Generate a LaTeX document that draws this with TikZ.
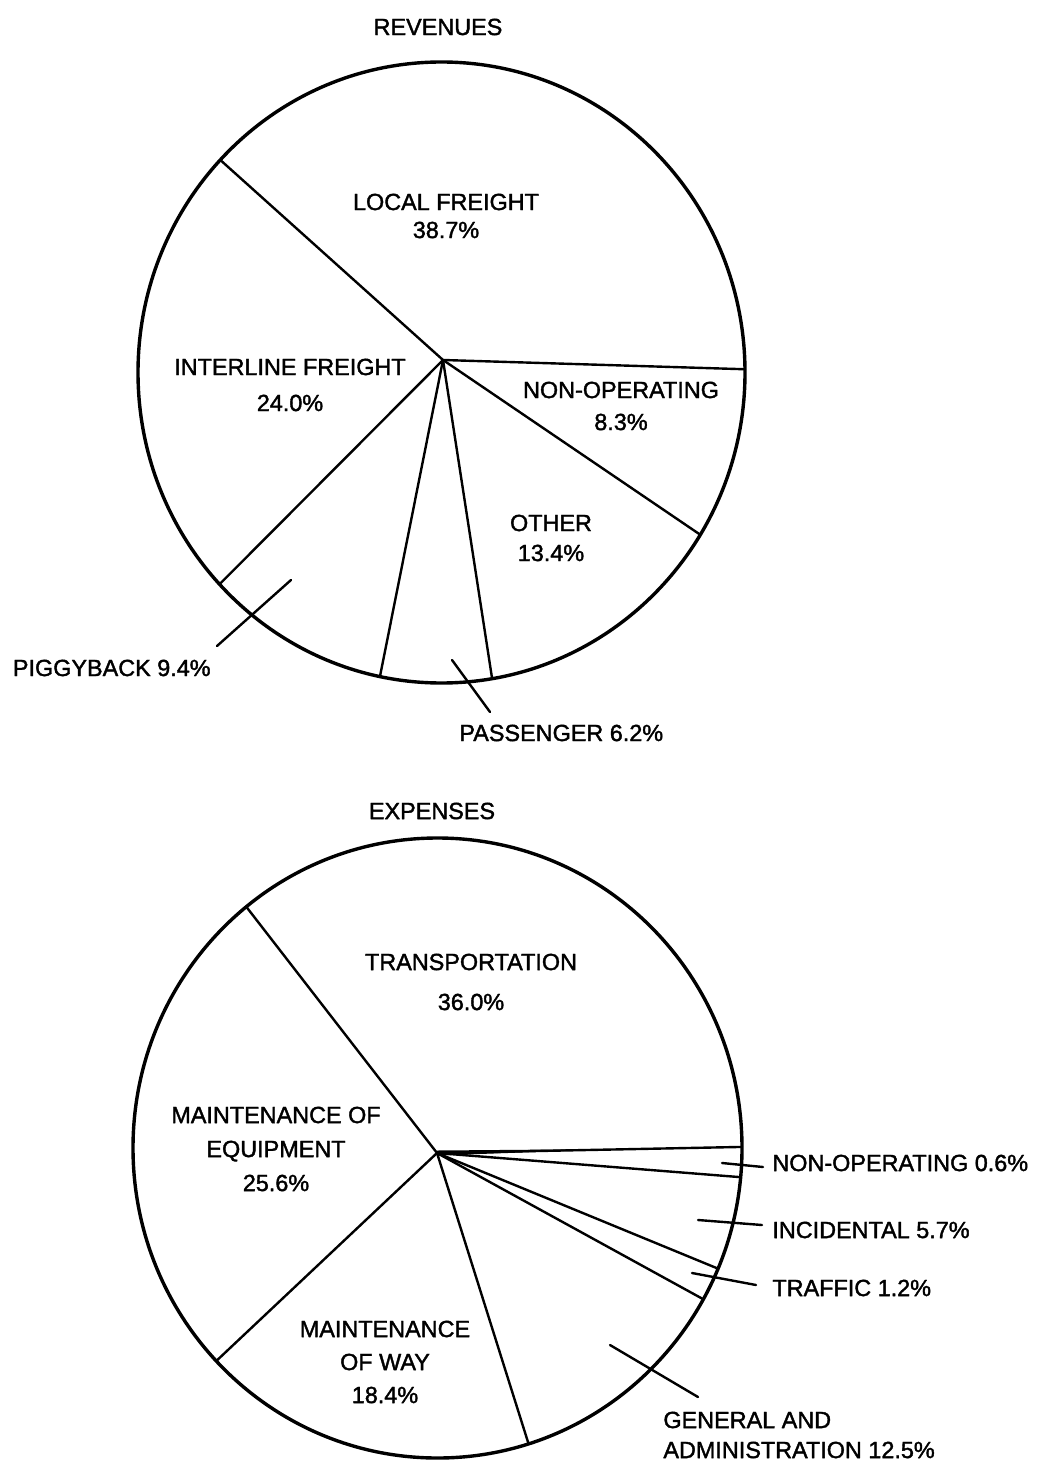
\documentclass[tikz,border=0pt]{standalone}
\usepackage{fontspec}
\setmainfont{Liberation Sans}[RawFeature={embolden=1.6}]
\usetikzlibrary{calc}
\tikzset{
    pie rim/.style={line width=1.7pt},
    spoke/.style={line width=1.2pt},
    leader/.style={line width=1.2pt},
    lbl/.style={inner sep=0pt,align=center,font=\fontsize{11.7}{14}\selectfont}
}

\begin{document}
\begin{tikzpicture}[x=0.5pt,y=-0.5pt,line cap=round,line join=round]
    \useasboundingbox (0,0) rectangle (1060,1470);
    % revenues
    \node[lbl] (revtitle) at (438,27) {REVENUES};
    \coordinate (rev) at (441.5,372.5);
    \coordinate (revc) at (443,360);
    \draw[pie rim] (rev) ellipse [x radius=303.5,y radius=310.5];
    \foreach \t in {-0.6,-136.8,-223,-258.3,-279.6,-328.5}
        \draw[spoke] (revc) -- ($(rev)+(\t:303.5 and 310.5)$);
    \node[lbl] (local) at (446,216) {LOCAL FREIGHT\\38.7\%};
    \node[lbl] (interline) at (290,385) {INTERLINE FREIGHT\\[4pt]24.0\%};
    \node[lbl] (nonop) at (621,406) {NON-OPERATING\\[2pt]8.3\%};
    \node[lbl] (other) at (551,538) {OTHER\\[1pt]13.4\%};
    \node[lbl,anchor=east] (piggy) at (211,668) {PIGGYBACK 9.4\%};
    \node[lbl,anchor=west] (passenger) at (459,733) {PASSENGER 6.2\%};
    \coordinate (pigA) at (291,580);
    \coordinate (pigB) at (217,646);
    \coordinate (pasA) at (452,660);
    \coordinate (pasB) at (490,712);
    \draw[leader] (pigA) -- (pigB) (pasA) -- (pasB);
    % expenses
    \node[lbl] (exptitle) at (432,811) {EXPENSES};
    \coordinate (exp) at (437.5,1148);
    \coordinate (expc) at (437,1153);
    \draw[pie rim] (exp) ellipse [x radius=304.5,y radius=310];
    \foreach \t in {-0.2,5.4,22.9,29.2,72.6,-223.4,-128.9}
        \draw[spoke] (expc) -- ($(exp)+(\t:304.5 and 310)$);
    \coordinate (taper) at (620,1149);
    \fill ($(expc)+(0,-2.5)$) -- (taper) -- ($(expc)+(0,2.5)$) -- cycle;
    \node[lbl] (transport) at (471,982) {TRANSPORTATION\\[6pt]36.0\%};
    \node[lbl] (equip) at (276,1149) {MAINTENANCE OF\\[3pt]EQUIPMENT\\[3pt]25.6\%};
    \node[lbl] (way) at (385,1362) {MAINTENANCE\\[2.5pt]OF WAY\\[2.5pt]18.4\%};
    \node[lbl,anchor=west] (xnonop) at (772,1163) {NON-OPERATING 0.6\%};
    \node[lbl,anchor=west] (incid) at (772,1230) {INCIDENTAL 5.7\%};
    \node[lbl,anchor=west] (traffic) at (772,1288) {TRAFFIC 1.2\%};
    \node[lbl,anchor=west,align=left] (genadm) at (663,1435) {GENERAL AND\\[1pt]ADMINISTRATION 12.5\%};
    \coordinate (xnA) at (722,1163);
    \coordinate (xnB) at (763,1167);
    \coordinate (inA) at (698,1220);
    \coordinate (inB) at (762,1225);
    \coordinate (trA) at (692,1273);
    \coordinate (trB) at (756,1285);
    \coordinate (gaA) at (610,1345);
    \coordinate (gaB) at (698,1397);
    \draw[leader] (xnA) -- (xnB) (inA) -- (inB) (trA) -- (trB) (gaA) -- (gaB);
\end{tikzpicture}
\end{document}
